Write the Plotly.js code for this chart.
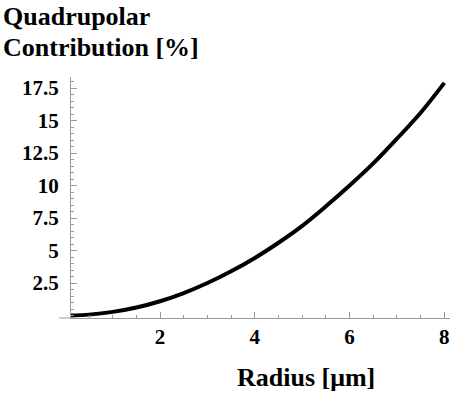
<!DOCTYPE html>
<html>
<head>
<meta charset="utf-8">
<script src="https://cdn.plot.ly/plotly-3.0.1.min.js"></script>
<style>html,body{margin:0;padding:0;background:#fff;}#chart{width:450px;height:394px;}</style>
</head>
<body>
<div id="chart"></div>
<script>
// Data
const radius = [0.12, 0.5, 1, 1.5, 2, 2.5, 3, 3.5, 4, 4.5, 5, 5.5, 6, 6.5, 7, 7.5, 8];
const contribution = [0.0, 0.07, 0.28, 0.62, 1.1, 1.73, 2.5, 3.4, 4.43, 5.6, 6.9, 8.4, 10.0, 11.7, 13.6, 15.6, 17.9];
const xTickVals = [2, 4, 6, 8];
const xTickText = ["2", "4", "6", "8"];
const yTickVals = [2.5, 5, 7.5, 10, 12.5, 15, 17.5];
const yTickText = ["2.5", "5", "7.5", "10", "12.5", "15", "17.5"];
const titleLines = ["Quadrupolar", "Contribution [%]"];
const xTitleText = "Radius [μm]";

const fontFam = "Liberation Serif, Times New Roman, serif";

const trace = {
  x: radius, y: contribution, type: 'scatter', mode: 'lines',
  line: {color: '#000', width: 4, shape: 'spline'}, hoverinfo: 'none'
};

const axisCommon = {
  showgrid: false, zeroline: false, showline: true, linecolor: '#999', linewidth: 1,
  ticks: 'inside', ticklen: 6, tickcolor: '#999', tickwidth: 1,
  tickfont: {family: fontFam, size: 21, color: '#000', weight: 700},
  tickmode: 'array',
  minor: {ticks: 'inside', ticklen: 3, tickcolor: '#999', dtick: 0.5, showgrid: false}
};

const plotL = 71, plotW = 379, plotT = 77, plotH = 241;
const px2paperX = px => (px - plotL) / plotW;
const py2paperY = py => 1 - (py - plotT) / plotH;

const titleFont = {family: fontFam, size: 26, color: '#000', weight: 700};

const layout = {
  width: 450, height: 394,
  margin: {l: plotL, r: 0, t: plotT, b: 394 - plotT - plotH},
  paper_bgcolor: '#fff', plot_bgcolor: '#fff',
  showlegend: false,
  xaxis: Object.assign({}, axisCommon, {
    range: [0.12, 8.12], tickvals: xTickVals, ticktext: xTickText
  }),
  yaxis: Object.assign({}, axisCommon, {
    range: [-0.19, 18.35], tickvals: yTickVals, ticktext: yTickText, ticklabelstandoff: 7
  }),
  annotations: [
    {text: titleLines[0], xref: 'paper', yref: 'paper', x: px2paperX(1), y: py2paperY(16),
     xanchor: 'left', yanchor: 'middle', showarrow: false, font: titleFont},
    {text: titleLines[1], xref: 'paper', yref: 'paper', x: px2paperX(1), y: py2paperY(47),
     xanchor: 'left', yanchor: 'middle', showarrow: false, font: titleFont},
    {text: xTitleText, xref: 'paper', yref: 'paper', x: px2paperX(306), y: py2paperY(377),
     xanchor: 'center', yanchor: 'middle', showarrow: false, font: titleFont}
  ],
  shapes: [{
    type: 'line', xref: 'paper', yref: 'paper', x0: px2paperX(59), x1: 0, y0: 0, y1: 0,
    line: {color: '#999', width: 1}
  }]
};

Plotly.newPlot('chart', [trace], layout, {staticPlot: true, displayModeBar: false});
</script>
</body>
</html>
